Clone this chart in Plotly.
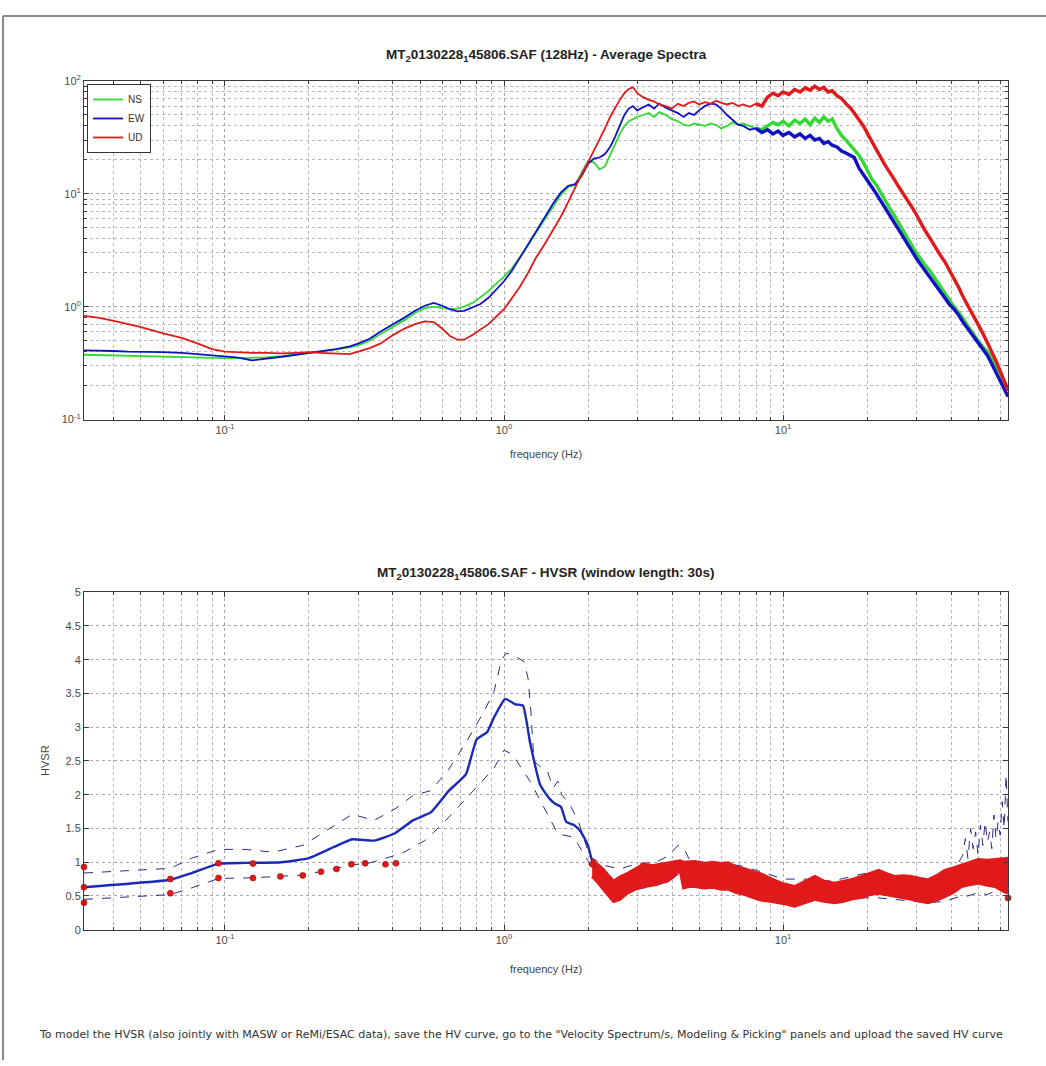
import math
import plotly.graph_objects as go

# ---------------- Average spectra (three components) ----------------
spec_freq = [
    0.03125, 0.035, 0.04, 0.045, 0.05, 0.06, 0.07, 0.08, 0.09, 0.1,
    0.11, 0.125, 0.14, 0.16, 0.18, 0.2, 0.22, 0.25, 0.28, 0.3,
    0.33, 0.36, 0.4, 0.44, 0.48, 0.52, 0.56, 0.6, 0.64, 0.68,
    0.72, 0.77, 0.82, 0.88, 0.94, 1.0, 1.07, 1.14, 1.22, 1.3,
    1.4, 1.5, 1.6, 1.7, 1.8, 1.9, 2.0, 2.1, 2.2, 2.3,
    2.4, 2.5, 2.6, 2.7, 2.8, 2.9, 3.0, 3.15, 3.3, 3.45,
    3.6, 3.8, 4.0, 4.2, 4.4, 4.6, 4.8, 5.0, 5.25, 5.5,
    5.75, 6.0, 6.3, 6.6, 6.9, 7.2, 7.6, 8.0, 8.4, 8.8,
    9.2, 9.6, 10.0, 10.5, 11.0, 11.5, 12.0, 12.5, 13.0, 13.5,
    14.0, 14.5, 15.0, 15.6, 16.2, 16.8, 17.4, 18.0, 18.7, 19.4,
    20.1, 20.8, 21.6, 22.4, 23.2, 24.0, 25.0, 26.0, 27.0, 28.0,
    29.0, 30.0, 31.0, 32.0, 33.5, 35.0, 36.5, 38.0, 39.5, 41.0,
    42.5, 44.0, 45.5, 47.0, 48.5, 50.0, 52.0, 54.0, 56.0, 58.0,
    60.0, 62.0, 64.0,
]
spec_ns = [
    0.375, 0.372, 0.37, 0.368, 0.365, 0.36, 0.358, 0.355, 0.352, 0.35,
    0.35, 0.35, 0.355, 0.365, 0.38, 0.39, 0.40, 0.415, 0.435, 0.455,
    0.50, 0.57, 0.66, 0.76, 0.88, 0.97, 1.0, 0.97, 0.95, 0.96,
    1.0, 1.08, 1.20, 1.38, 1.60, 1.85, 2.2, 2.75, 3.5, 4.5,
    6.0, 7.8, 9.8, 11.5, 12.0, 15.5, 19.5, 19.0, 16.5, 17.5,
    22.0, 28.0, 34.0, 40.0, 44.0, 46.0, 48.0, 50.0, 52.0, 48.0,
    53.0, 50.0, 46.0, 44.0, 41.0, 40.0, 42.0, 41.0, 40.0, 42.0,
    41.0, 38.0, 40.0, 43.0, 41.0, 42.0, 40.0, 38.0, 37.0, 40.0,
    43.0, 41.0, 44.0, 40.0, 45.0, 42.0, 46.0, 41.0, 47.0, 43.0,
    48.0, 44.0, 46.0, 38.0, 33.0, 30.0, 27.0, 25.0, 22.0, 19.0,
    16.0, 13.5, 12.0, 10.2, 9.0, 7.6, 6.5, 5.5, 4.8, 4.0,
    3.5, 3.0, 2.7, 2.4, 2.1, 1.8, 1.55, 1.35, 1.15, 1.0,
    0.9, 0.8, 0.7, 0.62, 0.56, 0.50, 0.44, 0.40, 0.35, 0.30,
    0.26, 0.22, 0.19,
]
spec_ew = [
    0.41, 0.41, 0.405, 0.40, 0.40, 0.395, 0.39, 0.38, 0.37, 0.36,
    0.355, 0.335, 0.345, 0.36, 0.375, 0.39, 0.40, 0.42, 0.445, 0.47,
    0.52, 0.60, 0.70, 0.80, 0.92, 1.02, 1.08, 1.02, 0.95, 0.91,
    0.92, 0.98, 1.05, 1.20, 1.42, 1.68, 2.1, 2.7, 3.5, 4.6,
    6.2, 8.2, 10.3, 11.8, 12.2, 14.5, 18.5, 20.5, 21.0, 22.5,
    26.0, 32.0, 40.0, 50.0, 57.0, 60.0, 55.0, 59.0, 62.0, 57.0,
    63.0, 58.0, 55.0, 52.0, 48.0, 52.0, 50.0, 55.0, 60.0, 63.0,
    62.0, 57.0, 50.0, 45.0, 41.0, 40.0, 37.0, 38.0, 35.0, 37.0,
    34.0, 36.0, 33.0, 35.0, 32.0, 34.0, 31.0, 33.0, 30.0, 31.0,
    28.0, 29.0, 27.0, 26.0, 24.0, 23.0, 22.0, 21.0, 17.0, 15.0,
    13.0, 11.5, 10.0, 8.6, 7.5, 6.5, 5.6, 4.8, 4.1, 3.5,
    3.1, 2.7, 2.4, 2.15, 1.85, 1.6, 1.4, 1.2, 1.05, 0.95,
    0.85, 0.74, 0.66, 0.60, 0.54, 0.49, 0.43, 0.37, 0.31, 0.26,
    0.22, 0.19, 0.16,
]
spec_ud = [
    0.83, 0.80, 0.75, 0.70, 0.66, 0.58, 0.53, 0.47, 0.42, 0.40,
    0.395, 0.39, 0.39, 0.385, 0.39, 0.395, 0.39, 0.385, 0.38, 0.40,
    0.43, 0.47, 0.56, 0.64, 0.70, 0.74, 0.73, 0.64, 0.55, 0.51,
    0.51, 0.56, 0.62, 0.70, 0.82, 0.95, 1.2, 1.5, 2.0, 2.7,
    3.6, 4.8, 6.3, 8.5, 11.5, 15.0, 19.0, 24.0, 30.0, 38.0,
    48.0, 58.0, 68.0, 78.0, 85.0, 88.0, 78.0, 72.0, 68.0, 66.0,
    62.0, 60.0, 57.0, 63.0, 60.0, 64.0, 66.0, 62.0, 65.0, 63.0,
    67.0, 64.0, 62.0, 64.0, 60.0, 62.0, 59.0, 63.0, 60.0, 72.0,
    78.0, 74.0, 80.0, 76.0, 84.0, 80.0, 87.0, 83.0, 90.0, 84.0,
    88.0, 80.0, 82.0, 74.0, 70.0, 63.0, 58.0, 52.0, 46.0, 40.0,
    34.0, 29.0, 24.0, 21.0, 18.0, 16.0, 13.5, 11.5, 10.0, 8.8,
    7.6, 6.6, 5.6, 4.9, 4.1, 3.4, 2.9, 2.5, 2.1, 1.8,
    1.5, 1.25, 1.05, 0.92, 0.80, 0.70, 0.58, 0.48, 0.40, 0.33,
    0.27, 0.22, 0.18,
]

# ---------------- HVSR curve with +/- one standard deviation ----------------
hv_freq = [
    0.03125, 0.0637, 0.076, 0.095, 0.118, 0.159, 0.2, 0.247, 0.286, 0.342,
    0.407, 0.472, 0.547, 0.635, 0.73, 0.798, 0.871, 0.922, 1.01, 1.10,
    1.17, 1.24, 1.35, 1.45, 1.52, 1.6, 1.67, 1.78, 1.88, 2.0,
    2.07, 2.3, 2.6, 3.0, 3.5, 4.0, 4.3, 4.6, 5.2, 6.0,
    7.0, 8.5, 10.0, 11.5, 13.0, 15.0, 18.0, 21.0, 25.0, 29.0,
    33.0, 38.0, 42.0, 46.0, 50.0, 54.0, 58.0, 62.0, 64.0,
]
hv_mean = [
    0.63, 0.74, 0.84, 0.98, 0.99, 1.0, 1.06, 1.23, 1.34, 1.32,
    1.43, 1.62, 1.74, 2.06, 2.3, 2.82, 2.93, 3.15, 3.42, 3.34,
    3.32, 2.77, 2.14, 1.95, 1.87, 1.82, 1.6, 1.55, 1.46, 1.25,
    1.02, 0.75, 0.68, 0.8, 0.85, 0.9, 1.0, 0.85, 0.82, 0.8,
    0.75, 0.66, 0.58, 0.55, 0.6, 0.56, 0.62, 0.66, 0.62, 0.58,
    0.55, 0.6, 0.66, 0.7, 0.75, 0.72, 0.78, 0.8, 0.76,
]

hv_hi_freq = [
    0.03125, 0.0637, 0.076, 0.095, 0.118, 0.149, 0.19, 0.232, 0.286, 0.342,
    0.407, 0.472, 0.547, 0.635, 0.73, 0.85, 0.922, 0.98, 1.02, 1.1,
    1.18, 1.22, 1.25, 1.28, 1.36, 1.43, 1.5, 1.56, 1.61, 1.72,
    1.85, 2.03, 2.3, 2.6, 3.0, 3.5, 3.9, 4.2, 4.4, 4.6,
    5.2, 6.0, 7.0, 8.5, 10.0, 12.0, 15.0, 18.0, 21.0, 25.0,
    29.0, 33.0, 38.0, 42.0, 44.0, 45.0, 46.0, 47.0, 48.0, 49.0,
    50.0, 51.0, 52.0, 53.0, 54.0, 55.0, 56.0, 57.0, 58.0, 59.0,
    60.0, 61.0, 62.0, 63.0, 64.0,
]
hv_hi = [
    0.84, 0.91, 1.06, 1.19, 1.19, 1.15, 1.25, 1.47, 1.71, 1.62,
    1.79, 1.99, 2.06, 2.38, 2.77, 3.24, 3.54, 4.0, 4.1, 4.05,
    3.97, 3.72, 3.2, 2.5, 2.4, 2.35, 2.1, 2.2, 2.0, 1.86,
    1.6, 1.08, 0.95, 0.9, 0.98, 1.0, 1.1, 1.25, 1.22, 1.05,
    1.0, 0.98, 0.95, 0.85, 0.75, 0.75, 0.72, 0.8, 0.86, 0.8,
    0.78, 0.75, 0.85, 0.95, 1.1, 1.35, 1.05, 1.5, 1.2, 1.45,
    1.1, 1.55, 1.25, 1.6, 1.3, 1.45, 1.2, 1.7, 1.35, 1.6,
    1.4, 1.9, 1.5, 2.3, 1.6,
]

hv_lo_freq = [
    0.03125, 0.0637, 0.076, 0.095, 0.126, 0.158, 0.19, 0.232, 0.286, 0.33,
    0.43, 0.52, 0.6, 0.69, 0.82, 0.92, 1.0, 1.07, 1.24, 1.39,
    1.56, 1.78, 2.03, 2.3, 2.6, 3.0, 3.5, 4.0, 4.3, 4.6,
    5.2, 6.0, 7.0, 8.5, 10.0, 11.5, 13.0, 15.0, 18.0, 21.0,
    25.0, 29.0, 33.0, 38.0, 42.0, 46.0, 50.0, 54.0, 58.0, 62.0, 64.0,
]
hv_lo = [
    0.45, 0.52, 0.62, 0.76, 0.77, 0.79, 0.81, 0.88, 0.96, 0.99,
    1.13, 1.32, 1.56, 1.83, 2.17, 2.39, 2.66, 2.6, 2.2, 1.81,
    1.42, 1.37, 0.98, 0.6, 0.5, 0.6, 0.65, 0.75, 0.85, 0.7,
    0.65, 0.62, 0.55, 0.48, 0.42, 0.38, 0.45, 0.42, 0.46, 0.48,
    0.45, 0.42, 0.4, 0.42, 0.48, 0.5, 0.55, 0.52, 0.58, 0.6, 0.58,
]

# rejected / flagged frequency samples
flag_freq = [0.03125, 0.03125, 0.03125, 0.0637, 0.0637, 0.0948, 0.0948, 0.126, 0.126,
             0.158, 0.19, 0.221, 0.251, 0.284, 0.318, 0.376, 0.41, 2.07, 64.0]
flag_hv = [0.93, 0.63, 0.40, 0.75, 0.54, 0.985, 0.766, 0.98, 0.766,
           0.79, 0.805, 0.86, 0.90, 0.97, 0.985, 0.97, 0.985, 0.97, 0.47]

# spread of the individual window curves above 2 Hz
band_freq = [
    2.07, 2.15, 2.27, 2.37, 2.47, 2.6, 2.76, 2.95, 3.16, 3.4,
    3.63, 3.85, 4.06, 4.27, 4.4, 4.6, 4.84, 5.2, 5.6, 6.0,
    6.35, 6.8, 7.3, 7.8, 8.3, 9.0, 10.0, 11.0, 12.0, 13.0,
    14.0, 15.3, 16.5, 17.8, 19.1, 20.5, 22.0, 23.5, 25.1, 27.0,
    28.8, 31.0, 33.0, 35.5, 38.0, 41.0, 43.6, 47.0, 50.0, 54.0,
    57.5, 61.0, 64.0,
]
band_top = [
    1.04, 0.98, 0.89, 0.8, 0.72, 0.78, 0.83, 0.9, 0.97, 0.95,
    0.97, 0.99, 1.01, 1.02, 1.0, 1.0, 1.01, 0.98, 1.0, 0.98,
    0.99, 0.93, 0.9, 0.86, 0.83, 0.76, 0.68, 0.64, 0.72, 0.79,
    0.72, 0.69, 0.72, 0.75, 0.79, 0.84, 0.88, 0.83, 0.79, 0.8,
    0.79, 0.76, 0.74, 0.8, 0.88, 0.92, 0.96, 1.0, 1.04, 1.03,
    1.04, 1.05, 1.06,
]
band_bot = [
    0.79, 0.72, 0.6, 0.5, 0.42, 0.45, 0.54, 0.6, 0.64, 0.66,
    0.69, 0.72, 0.79, 0.9, 0.62, 0.64, 0.64, 0.62, 0.63, 0.6,
    0.6, 0.55, 0.52, 0.48, 0.44, 0.42, 0.39, 0.35, 0.4, 0.45,
    0.42, 0.4, 0.42, 0.46, 0.48, 0.52, 0.54, 0.52, 0.49, 0.47,
    0.45, 0.42, 0.4, 0.44, 0.49, 0.56, 0.64, 0.67, 0.69, 0.66,
    0.64, 0.58, 0.54,
]

title_top = "<b>MT<sub>2</sub>0130228<sub>1</sub>45806.SAF (128Hz) - Average Spectra</b>"
title_bot = "<b>MT<sub>2</sub>0130228<sub>1</sub>45806.SAF - HVSR (window length: 30s)</b>"
footer = ('To model the HVSR (also jointly with MASW or ReMi/ESAC data), save the HV curve, '
          'go to the "Velocity Spectrum/s, Modeling & Picking" panels and upload the saved HV curve')

GREEN, BLUE, RED = "#33d933", "#1212c4", "#e01a1a"
W, H = 1046, 1066
FONT = "Liberation Sans, Arial, sans-serif"


def px_x(p):
    return p / W


def px_y(p):
    return 1 - p / H


fig = go.Figure()

# --- spectra: thin line over the full band, heavier where the spectra get noisy ---
noisy_from = next(i for i, f in enumerate(spec_freq) if f >= 8.0)
for name, vals, col in (("NS", spec_ns, GREEN), ("EW", spec_ew, BLUE), ("UD", spec_ud, RED)):
    fig.add_trace(go.Scatter(x=spec_freq, y=vals, name=name, mode="lines", legendgroup=name,
                             line=dict(color=col, width=1.8), xaxis="x", yaxis="y"))
    fig.add_trace(go.Scatter(x=spec_freq[noisy_from:], y=vals[noisy_from:], mode="lines",
                             legendgroup=name, showlegend=False,
                             line=dict(color=col, width=3.4), xaxis="x", yaxis="y"))

# --- HVSR ---
dash_style = dict(color="#2b2b8c", width=1, dash="dash")
fig.add_trace(go.Scatter(x=hv_lo_freq, y=hv_lo, mode="lines", line=dash_style,
                         showlegend=False, xaxis="x2", yaxis="y2"))
fig.add_trace(go.Scatter(x=hv_hi_freq, y=hv_hi, mode="lines", line=dash_style,
                         showlegend=False, xaxis="x2", yaxis="y2"))
fig.add_trace(go.Scatter(x=hv_freq, y=hv_mean, mode="lines",
                         line=dict(color="#1a2ab8", width=2.4, shape="spline", smoothing=0.4),
                         showlegend=False, xaxis="x2", yaxis="y2"))
fig.add_trace(go.Scatter(x=band_freq, y=band_top, mode="lines",
                         line=dict(color=RED, width=3),
                         showlegend=False, xaxis="x2", yaxis="y2"))
fig.add_trace(go.Scatter(x=band_freq, y=band_bot, mode="lines", fill="tonexty",
                         fillcolor=RED, line=dict(color=RED, width=3),
                         showlegend=False, xaxis="x2", yaxis="y2"))
fig.add_trace(go.Scatter(x=flag_freq, y=flag_hv, mode="markers",
                         marker=dict(color=RED, size=6, line=dict(color="#8a1010", width=0.6)),
                         showlegend=False, xaxis="x2", yaxis="y2", cliponaxis=False))

# --- axes ---
x_lo, x_hi = math.log10(1 / 32), math.log10(64)
x_minor = [d * 10 ** k for k in range(-2, 2) for d in range(2, 10)
           if 1 / 32 <= d * 10 ** k <= 64]
y_minor = [d * 10 ** k for k in range(-1, 2) for d in range(2, 10)]

common = dict(showline=True, linecolor="#3a3a3a", linewidth=1, mirror="ticks",
              ticks="inside", ticklen=5, tickcolor="#3a3a3a",
              showgrid=True, gridcolor="#a8a8a8", griddash="dot", gridwidth=1,
              zeroline=False, tickfont=dict(family=FONT, size=11, color="#4a4a4a"))
log_minor_x = dict(tickmode="array", tickvals=x_minor, ticks="inside", ticklen=3,
                   tickcolor="#3a3a3a", showgrid=True, gridcolor="#b8b8b8",
                   griddash="dot", gridwidth=1)

dom_x = [px_x(84), px_x(1008)]
x_ticks = dict(tickmode="array", tickvals=[0.1, 1, 10],
               ticktext=["10<sup>-1</sup>", "10<sup>0</sup>", "10<sup>1</sup>"])

fig.update_layout(
    width=W, height=H, autosize=False,
    margin=dict(l=0, r=0, t=0, b=0),
    paper_bgcolor="white", plot_bgcolor="white",
    font=dict(family=FONT, color="#333"),
    xaxis=dict(type="log", range=[x_lo, x_hi], domain=dom_x, anchor="y",
               minor=log_minor_x, **x_ticks, **common),
    yaxis=dict(type="log", range=[-1, 2], domain=[px_y(417), px_y(74)], anchor="x",
               tickmode="array", tickvals=[0.1, 1, 10, 100],
               ticktext=["10<sup>-1</sup>", "10<sup>0</sup>", "10<sup>1</sup>", "10<sup>2</sup>"],
               minor=dict(tickmode="array", tickvals=y_minor, ticks="inside", ticklen=3,
                          tickcolor="#3a3a3a", showgrid=True, gridcolor="#b8b8b8",
                          griddash="dot", gridwidth=1),
               **common),
    xaxis2=dict(type="log", range=[x_lo, x_hi], domain=dom_x, anchor="y2",
                minor=log_minor_x, **x_ticks, **common),
    yaxis2=dict(range=[0, 5], domain=[px_y(934), px_y(592)], anchor="x2",
                tickmode="linear", tick0=0, dtick=0.5, **common),
    legend=dict(x=px_x(87), y=px_y(77), xanchor="left", yanchor="top",
                bgcolor="white", bordercolor="#333", borderwidth=1,
                font=dict(family=FONT, size=10, color="#333"),
                itemwidth=30, tracegroupgap=0, traceorder="normal"),
    showlegend=True,
)

ann = [
    dict(text=title_top, x=px_x(546), y=px_y(48), font=dict(size=13.5, color="#222")),
    dict(text=title_bot, x=px_x(546), y=px_y(573), font=dict(size=13.5, color="#222")),
    dict(text="frequency (Hz)", x=px_x(546), y=px_y(452), font=dict(size=11, color="#444")),
    dict(text="frequency (Hz)", x=px_x(546), y=px_y(974), font=dict(size=11, color="#444")),
    dict(text="HVSR", x=px_x(45), y=px_y(763), textangle=-90, font=dict(size=11, color="#444")),
]
for a in ann:
    fig.add_annotation(xref="paper", yref="paper", showarrow=False,
                       xanchor="center", yanchor="middle", **a)
fig.add_annotation(text=footer, xref="paper", yref="paper", x=px_x(37), y=px_y(1040),
                   xanchor="left", yanchor="middle", showarrow=False,
                   font=dict(family="DejaVu Sans, sans-serif", size=11, color="#333"))

# window frame edges
fig.add_shape(type="line", xref="paper", yref="paper", x0=px_x(3), x1=1, y0=px_y(8), y1=px_y(8),
              line=dict(color="#8a8a8a", width=2))
fig.add_shape(type="line", xref="paper", yref="paper", x0=px_x(3), x1=px_x(3), y0=px_y(8), y1=0,
              line=dict(color="#8a8a8a", width=2))

fig.write_html("out.html")
